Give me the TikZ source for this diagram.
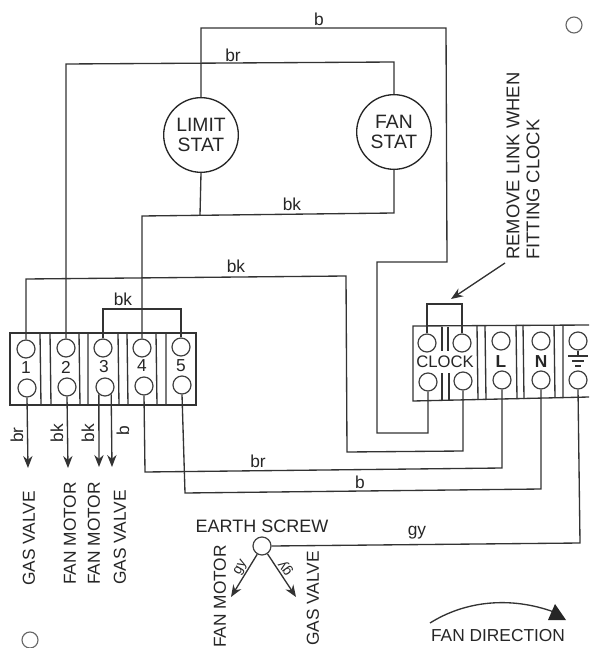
\documentclass[tikz,border=0pt]{standalone}
\usepackage{fontspec}
\setmainfont{Liberation Sans}
\usetikzlibrary{arrows.meta}
\tikzset{
    wire/.style={line width=1pt,color=black!80},
    lead/.style={wire,-{Stealth[length=9pt,width=7pt]}},
    terminal/.style={draw,circle,line width=0.9pt,color=black!75,minimum size=13.5pt,inner sep=0pt},
    stat/.style={draw,circle,line width=1pt,color=black!85,minimum size=56pt,inner sep=0pt,align=center,font=\fontsize{14.5}{15}\selectfont},
    hole/.style={draw,circle,line width=0.85pt,color=black!60,minimum size=12pt,inner sep=0pt},
    txt/.style={color=black!85,inner sep=0pt,font=\fontsize{13}{15}\selectfont},
}
\begin{document}
\begin{tikzpicture}[x=0.75pt,y=-0.75pt]
    \useasboundingbox (0,0) rectangle (589,648);
    % Fixing holes
    \node[hole] (holetop) at (574,25) {};
    \node[hole] (holebottom) at (30,640) {};
    % Stats
    \node[stat] (limit) at (201,135) {LIMIT\\STAT};
    \node[stat] (fan) at (394,132) {FAN\\STAT};
    % Left terminal block
    \draw[wire] (10,333) rectangle (196,405);
    \draw[wire] (40,333) -- (41,405) (50,333) -- (51,405) (79,333) -- (80,405) (88,333) -- (88,405);
    \draw[wire] (118,333) -- (119,405) (127,333) -- (128,405) (156,333) -- (157,405) (166,333) -- (166,405);
    \node[terminal] (ta1) at (26,349) {};
    \node[terminal] (ta2) at (66,348) {};
    \node[terminal] (ta3) at (103,348) {};
    \node[terminal] (ta4) at (142,348) {};
    \node[terminal] (ta5) at (181,347) {};
    \node[terminal] (tb1) at (27,388) {};
    \node[terminal] (tb2) at (67,387) {};
    \node[terminal] (tb3) at (105,387) {};
    \node[terminal] (tb4) at (144,386) {};
    \node[terminal] (tb5) at (182,385) {};
    \node[txt] (num1) at (26,368) {1};
    \node[txt] (num2) at (66,367) {2};
    \node[txt] (num3) at (104,367) {3};
    \node[txt] (num4) at (142,366) {4};
    \node[txt] (num5) at (181,366) {5};
    % Right terminal block
    \draw[wire] (589,325) -- (413,326) -- (413,401) -- (589,397);
    \draw[wire] (442,327) -- (442,351) (448,327) -- (448,351) (442,373) -- (442,400) (449,373) -- (449,400);
    \draw[wire] (477,326) -- (478,400) (485,326) -- (486,400) (516,325) -- (517,399) (523,325) -- (524,399);
    \draw[wire] (554,325) -- (555,398) (563,325) -- (563,398);
    \node[terminal] (tc1) at (427,343) {};
    \node[terminal] (tc2) at (462,343) {};
    \node[terminal] (tl) at (501,341) {};
    \node[terminal] (tn) at (541,341) {};
    \node[terminal] (te) at (578,341) {};
    \node[terminal] (td1) at (428,382) {};
    \node[terminal] (td2) at (463,381) {};
    \node[terminal] (tm) at (502,380) {};
    \node[terminal] (to) at (541,380) {};
    \node[terminal] (tg) at (578,380) {};
    \node[txt,font=\fontsize{12.5}{15}\selectfont] (clock) at (445,362) {CLOCK};
    \node[txt,font=\bfseries\fontsize{13}{15}\selectfont] (labl) at (501,362) {L};
    \node[txt,font=\bfseries\fontsize{13}{15}\selectfont] (labn) at (541,362) {N};
    % Earth sign
    \draw[wire,line width=1.1pt] (te.south) -- (578,355) (568,356) -- (588,356) (572,361) -- (584,361) (575,366) -- (581,366);
    % Wires to the stats
    \coordinate (btop) at (446,28);
    \coordinate (bstep) at (447,262);
    \coordinate (bdown) at (377,433);
    \coordinate (brtop) at (66,64);
    \coordinate (bkmid) at (142,216);
    \coordinate (bkright) at (346,276);
    \coordinate (bkleft) at (26,279);
    \coordinate (bkbottom) at (347,452);
    \draw[wire] (limit.north) |- (btop) -- (bstep) -- (377,262) -- (bdown) -| (td1.south);
    \draw[wire] (ta2.north) -- (brtop) -- (394,62) -- (fan.north);
    \draw[wire] (limit.south) -- (200,215);
    \draw[wire] (ta4.north) -- (bkmid) -- (394,213) -- (fan.south);
    \draw[wire] (ta1.north) -- (bkleft) -- (bkright) -- (bkbottom) -- (463,451) -- (td2.south);
    \draw[wire] (ta3.north) |- (181,309) -- (ta5.north);
    \draw[wire] (tc1.north) |- (462,304) -- (tc2.north);
    % Lower wires
    \coordinate (lowbr) at (145,472);
    \coordinate (lowb) at (185,493);
    \coordinate (earthcorner) at (580,543);
    \node[terminal] (screw) at (262,546) {};
    \draw[wire] (tb4.south) -- (lowbr) -- (502,468) -- (tm.south);
    \draw[wire] (tb5.south) -- (lowb) -- (541,489) -- (to.south);
    \draw[wire] (tg.south) -- (earthcorner) -- (screw.east);
    % Arrows
    \coordinate (valve1) at (28,468);
    \coordinate (motor1) at (68,468);
    \coordinate (motor2) at (99,467);
    \coordinate (valve2) at (112,467);
    \coordinate (motor3) at (231,597);
    \coordinate (valve3) at (296,597);
    \coordinate (linktip) at (451,299);
    \coordinate (linkfrom) at (505,263);
    \draw[lead] (tb1.south) -- (valve1);
    \draw[lead] (tb2.south) -- (motor1);
    \draw[lead] (tb3.-130) -- (motor2);
    \draw[lead] (tb3.-50) -- (valve2);
    \draw[lead] (screw.-120) -- (motor3);
    \draw[lead] (screw.-55) -- (valve3);
    \draw[lead] (linkfrom) -- (linktip);
    % Wire labels
    \node[txt] (lb1) at (319,19) {b};
    \node[txt] (lb2) at (233,55) {br};
    \node[txt] (lb3) at (292,204) {bk};
    \node[txt] (lb4) at (236,266) {bk};
    \node[txt] (lb5) at (123,299) {bk};
    \node[txt] (lb6) at (258,461) {br};
    \node[txt] (lb7) at (360,482) {b};
    \node[txt] (lb8) at (417,533) {gy};
    \node[txt,rotate=90] (lb9) at (17,435) {br};
    \node[txt,rotate=90] (lb10) at (57,433) {bk};
    \node[txt,rotate=90] (lb11) at (88,433) {bk};
    \node[txt,rotate=90] (lb12) at (123,431) {b};
    \node[txt,rotate=60,font=\fontsize{10.5}{12}\selectfont] (lb13) at (241,568) {gy};
    \node[txt,rotate=125,font=\fontsize{10.5}{12}\selectfont] (lb14) at (286,568) {gy};
    % Destinations
    \node[txt,rotate=90,anchor=west] (dest1) at (29,586) {GAS VALVE};
    \node[txt,rotate=90,anchor=west] (dest2) at (70,585) {FAN MOTOR};
    \node[txt,rotate=90,anchor=west] (dest3) at (94,585) {FAN MOTOR};
    \node[txt,rotate=90,anchor=west] (dest4) at (120,585) {GAS VALVE};
    \node[txt,rotate=90,anchor=west] (dest5) at (220,648) {FAN MOTOR};
    \node[txt,rotate=90,anchor=west] (dest6) at (313,646) {GAS VALVE};
    \node[txt,font=\fontsize{13.5}{15}\selectfont] (earthlabel) at (262,526) {EARTH SCREW};
    \node[txt,rotate=90,anchor=west,align=left,font=\fontsize{13.8}{15}\selectfont] (linklabel) at (523,260) {REMOVE LINK WHEN\\FITTING CLOCK};
    % Fan direction
    \node[txt] (fandir) at (498,636) {FAN DIRECTION};
    \coordinate (fanfrom) at (430,623);
    \coordinate (fanto) at (554,612);
    \draw[wire] (fanfrom) .. controls (465,601) and (510,596) .. (fanto);
    \fill[black!85] (555,604) -- (566,620) -- (548,620) -- cycle;
\end{tikzpicture}
\end{document}
